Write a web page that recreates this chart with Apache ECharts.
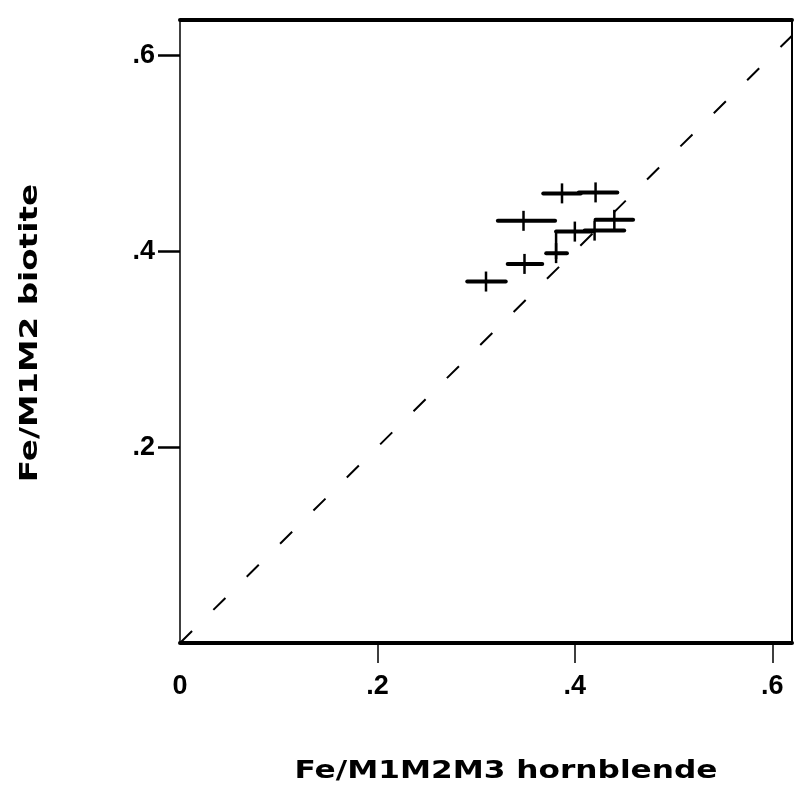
<!DOCTYPE html>
<html>
<head>
<meta charset="utf-8">
<script src="https://cdn.jsdelivr.net/npm/echarts@6/dist/echarts.min.js"></script>
<style>
  html, body { margin: 0; padding: 0; background: #ffffff; }
  #chart { width: 798px; height: 803px; }
</style>
</head>
<body>
<div id="chart"></div>
<script>
// Axis ticks and their printed labels
const xTickValues = [0, 0.2, 0.4, 0.6];
const xTickLabels = ['0', '.2', '.4', '.6'];
const yTickValues = [0.2, 0.4, 0.6];
const yTickLabels = ['.2', '.4', '.6'];

// Fe ratio pairs: hornblende (x) with its spread, biotite (y)
const hornblende  = [0.387, 0.421, 0.348, 0.400, 0.420, 0.381, 0.440, 0.310, 0.349];
const biotite     = [0.459, 0.460, 0.431, 0.420, 0.421, 0.398, 0.432, 0.369, 0.387];
const hornblendeLow  = [0.368, 0.404, 0.322, 0.381, 0.410, 0.371, 0.421, 0.291, 0.332];
const hornblendeHigh = [0.406, 0.443, 0.380, 0.418, 0.450, 0.392, 0.459, 0.330, 0.367];

// Biotite spread drawn as a vertical bar
const spreadX    = [0.381];
const spreadLow  = [0.392];
const spreadHigh = [0.420];

// 1:1 reference line
const equalLine = [[0, 0], [0.62, 0.62]];

const X_MAX = 0.62;
const Y_MAX = 0.636;

const pointRows = hornblende.map((x, i) => [x, biotite[i], hornblendeLow[i], hornblendeHigh[i]]);
const spreadRows = spreadX.map((x, i) => [x, spreadLow[i], spreadHigh[i]]);

function labelFor(values, labels) {
  return function (v) {
    let best = 0;
    for (let i = 1; i < values.length; i++) {
      if (Math.abs(values[i] - v) < Math.abs(values[best] - v)) best = i;
    }
    return labels[best];
  };
}

const tickFont = { color: '#000', fontFamily: '"Liberation Sans", Arial, sans-serif', fontWeight: 'bold', fontSize: 27 };

const chart = echarts.init(document.getElementById('chart'), null, { renderer: 'canvas' });

chart.setOption({
  backgroundColor: '#ffffff',
  animation: false,
  grid: { left: 180, top: 20, right: 6, bottom: 160, containLabel: false },
  xAxis: [
    {
      type: 'value', min: 0, max: X_MAX, position: 'bottom',
      splitLine: { show: false },
      axisLine: { show: true, onZero: false, lineStyle: { color: '#000', width: 4 } },
      axisTick: { show: true, inside: false, length: 20, customValues: xTickValues.slice(1), lineStyle: { color: '#000', width: 1.5 } },
      axisLabel: Object.assign({ show: true, margin: 30, customValues: xTickValues, formatter: labelFor(xTickValues, xTickLabels), showMinLabel: true, showMaxLabel: true }, tickFont)
    },
    {
      type: 'value', min: 0, max: X_MAX, position: 'top',
      splitLine: { show: false },
      axisLine: { show: true, onZero: false, lineStyle: { color: '#000', width: 4 } },
      axisTick: { show: false }, axisLabel: { show: false }
    }
  ],
  yAxis: [
    {
      type: 'value', min: 0, max: Y_MAX, position: 'left',
      splitLine: { show: false },
      axisLine: { show: true, onZero: false, lineStyle: { color: '#000', width: 1.5 } },
      axisTick: { show: true, inside: false, length: 22, customValues: yTickValues, lineStyle: { color: '#000', width: 2.5 } },
      axisLabel: Object.assign({ show: true, margin: 25, customValues: yTickValues, formatter: labelFor(yTickValues, yTickLabels) }, tickFont)
    },
    {
      type: 'value', min: 0, max: Y_MAX, position: 'right',
      splitLine: { show: false },
      axisLine: { show: true, onZero: false, lineStyle: { color: '#000', width: 2 } },
      axisTick: { show: false }, axisLabel: { show: false }
    }
  ],
  series: [
    {
      name: '1:1',
      type: 'line',
      xAxisIndex: 0, yAxisIndex: 0,
      data: equalLine,
      symbol: 'none',
      silent: true,
      lineStyle: { color: '#000', width: 2, type: [17, 30] },
      z: 2
    },
    {
      name: 'samples',
      type: 'custom',
      xAxisIndex: 0, yAxisIndex: 0,
      data: pointRows,
      encode: { x: [0, 2, 3], y: 1 },
      renderItem: function (params, api) {
        const x = api.value(0), y = api.value(1);
        const p = api.coord([x, y]);
        const a = api.coord([api.value(2), y]);
        const b = api.coord([api.value(3), y]);
        return {
          type: 'group',
          children: [
            { type: 'line', shape: { x1: a[0], y1: a[1], x2: b[0], y2: b[1] }, style: { stroke: '#000', lineWidth: 4, lineCap: 'round' } },
            { type: 'line', shape: { x1: p[0], y1: p[1] - 10, x2: p[0], y2: p[1] + 10 }, style: { stroke: '#000', lineWidth: 2.5 } }
          ]
        };
      },
      z: 3
    },
    {
      name: 'spread',
      type: 'custom',
      xAxisIndex: 0, yAxisIndex: 0,
      data: spreadRows,
      encode: { x: 0, y: [1, 2] },
      renderItem: function (params, api) {
        const x = api.value(0);
        const a = api.coord([x, api.value(1)]);
        const b = api.coord([x, api.value(2)]);
        return { type: 'line', shape: { x1: a[0], y1: a[1], x2: b[0], y2: b[1] }, style: { stroke: '#000', lineWidth: 2.5 } };
      },
      z: 3
    }
  ],
  graphic: [
    {
      type: 'text', x: 506, y: 772, scaleX: 1.3,
      style: { text: 'Fe/M1M2M3 hornblende', fill: '#000', font: 'bold 24px "DejaVu Sans", sans-serif', textAlign: 'center', textVerticalAlign: 'middle' }
    },
    {
      type: 'text', x: 31, y: 333, rotation: Math.PI / 2, scaleX: 1.36,
      style: { text: 'Fe/M1M2 biotite', fill: '#000', font: 'bold 24px "DejaVu Sans", sans-serif', textAlign: 'center', textVerticalAlign: 'middle' }
    }
  ]
});
</script>
</body>
</html>
